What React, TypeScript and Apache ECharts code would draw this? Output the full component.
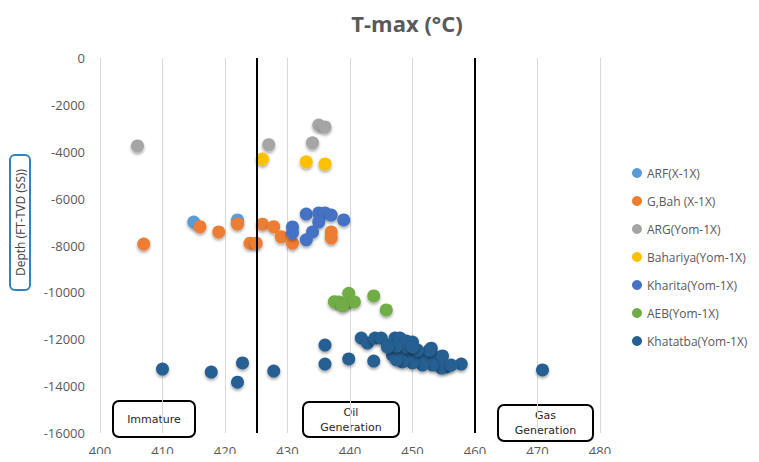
import React, { useEffect, useRef } from "react";
import * as echarts from "echarts";

const seriesNames = [
  "ARF(X-1X)",
  "G,Bah (X-1X)",
  "ARG(Yom-1X)",
  "Bahariya(Yom-1X)",
  "Kharita(Yom-1X)",
  "AEB(Yom-1X)",
  "Khatatba(Yom-1X)",
];
const seriesColors = ["#5B9BD5", "#ED7D31", "#A5A5A5", "#FFC000", "#4472C4", "#70AD47", "#255E91"];

const arf = [[415, -7000], [422, -6910]];
const gbah = [
  [407, -7940], [416, -7200], [419, -7420], [422, -7080], [424, -7900], [425, -7900],
  [426, -7090], [427.8, -7200], [429, -7630], [430.8, -7900], [437, -7420], [437, -7680],
];
const arg = [[406, -3750], [427, -3700], [434, -3620], [435, -2860], [436, -2940]];
const bahariya = [[426, -4310], [433, -4430], [436, -4520]];
const kharita = [
  [433, -6660], [435, -6610], [436, -6610], [437, -6700], [435, -7000], [439, -6910],
  [430.8, -7210], [430.8, -7460], [434, -7420], [433, -7760],
];
const aeb = [
  [439.8, -10040], [438.2, -10410], [439.4, -10460], [440.7, -10410], [437.5, -10400],
  [438.8, -10580], [443.8, -10150], [445.8, -10750],
];
const khatatba = [
  [410, -13270], [417.8, -13400], [422.8, -13010], [422, -13830], [427.8, -13360],
  [436, -12250], [436, -13060], [439.8, -12840], [443.8, -12930], [470.8, -13310],
  [457.8, -13060], [441.8, -11950], [442.8, -12160], [444, -11950], [445, -11950],
  [446, -12250], [447.2, -11950], [448, -11950], [449, -12070], [450, -12120],
  [453, -12380], [446.8, -12680], [448, -12800], [449, -12590], [450, -12540],
  [450.8, -12760], [452.2, -12760], [453.8, -12760], [454.8, -12710], [455.4, -13180],
  [454.6, -13230], [453.2, -13100], [451.6, -13100], [450, -13010], [448.4, -12970],
  [447.4, -12880], [456.2, -13100], [452.7, -12460], [449, -12330], [447.4, -12290],
  [446, -12330], [450.8, -12460], [450, -12330],
];
const seriesData = [arf, gbah, arg, bahariya, kharita, aeb, khatatba];
const zoneBoundaries = [425, 460];
const xTicks = { min: 400, max: 480, interval: 10 };
const yTicks = { min: -16000, max: 0, interval: 2000 };
const yAxisTitle = "Depth (FT-TVD (SS))";

export default function App() {
  const ref = useRef<HTMLDivElement>(null);
  useEffect(() => {
    if (!ref.current) return;
    const chart = echarts.init(ref.current, undefined, { renderer: "svg" });
    const font = "'Open Sans', sans-serif";
    const boxFont = "'DejaVu Sans', sans-serif";
    const series: any[] = seriesNames.map((name, i) => ({
      name,
      type: "scatter",
      data: seriesData[i],
      symbolSize: 13,
      itemStyle: {
        color: seriesColors[i],
        opacity: 1,
        shadowBlur: 3,
        shadowOffsetY: 2,
        shadowColor: "rgba(0,0,0,0.35)",
      },
      z: 3,
    }));
    series[0].markLine = {
      silent: true,
      symbol: "none",
      label: { show: false },
      lineStyle: { color: "#000", width: 2, type: "solid" },
      data: zoneBoundaries.map((v) => ({ xAxis: v })),
    };
    const box = (x: number, y: number, w: number, h: number, text: string) => ({
      type: "group",
      children: [
        {
          type: "rect",
          shape: { x, y, width: w, height: h, r: 6 },
          style: { fill: "#fff", stroke: "#000", lineWidth: 2 },
        },
        {
          type: "text",
          x: x + w / 2,
          y: y + h / 2,
          style: {
            text,
            fill: "#262626",
            font: `11px ${boxFont}`,
            align: "center",
            verticalAlign: "middle",
            lineHeight: 15,
          },
        },
      ],
    });
    chart.setOption({
      animation: false,
      backgroundColor: "#fff",
      title: {
        text: "T-max (°C)",
        left: 402,
        top: 7,
        textAlign: "center",
        textStyle: { fontSize: 22, fontWeight: "bold", color: "#595959", fontFamily: font },
      },
      grid: { left: 100, right: 159, top: 58, bottom: 29, outerBoundsMode: "none" },
      legend: {
        orient: "vertical",
        left: 632,
        top: 167,
        padding: 0,
        itemWidth: 10,
        itemHeight: 10,
        itemGap: 16,
        icon: "circle",
        textStyle: { color: "#595959", fontSize: 12, fontFamily: font, overflow: "none" },
        data: seriesNames,
      },
      xAxis: {
        type: "value",
        min: xTicks.min,
        max: xTicks.max,
        interval: xTicks.interval,
        axisLine: { show: false },
        axisTick: { show: false },
        splitLine: { show: true, lineStyle: { color: "#D9D9D9", width: 1 } },
        axisLabel: { color: "#595959", fontSize: 13, fontFamily: font, margin: 11 },
      },
      yAxis: {
        type: "value",
        min: yTicks.min,
        max: yTicks.max,
        interval: yTicks.interval,
        axisLine: { show: false },
        axisTick: { show: false },
        splitLine: { show: false },
        axisLabel: {
          color: "#595959",
          fontSize: 13,
          fontFamily: font,
          margin: 15,
          formatter: (v: number) => String(v),
        },
      },
      graphic: [
        {
          type: "rect",
          shape: { x: 10, y: 155, width: 20, height: 135, r: 5 },
          style: { fill: "#fff", stroke: "#2F83C1", lineWidth: 2 },
        },
        {
          type: "text",
          x: 20,
          y: 222.5,
          rotation: Math.PI / 2,
          style: {
            text: yAxisTitle,
            fill: "#404040",
            font: `12px ${font}`,
            align: "center",
            verticalAlign: "middle",
          },
        },
        box(113, 401, 82, 36, "Immature"),
        box(303, 402, 96, 35, "Oil\nGeneration"),
        box(498, 405, 95, 36, "Gas\nGeneration"),
      ],
      series,
    });
    return () => chart.dispose();
  }, []);
  return <div ref={ref} style={{ width: 759, height: 462, margin: -8 }} />;
}
